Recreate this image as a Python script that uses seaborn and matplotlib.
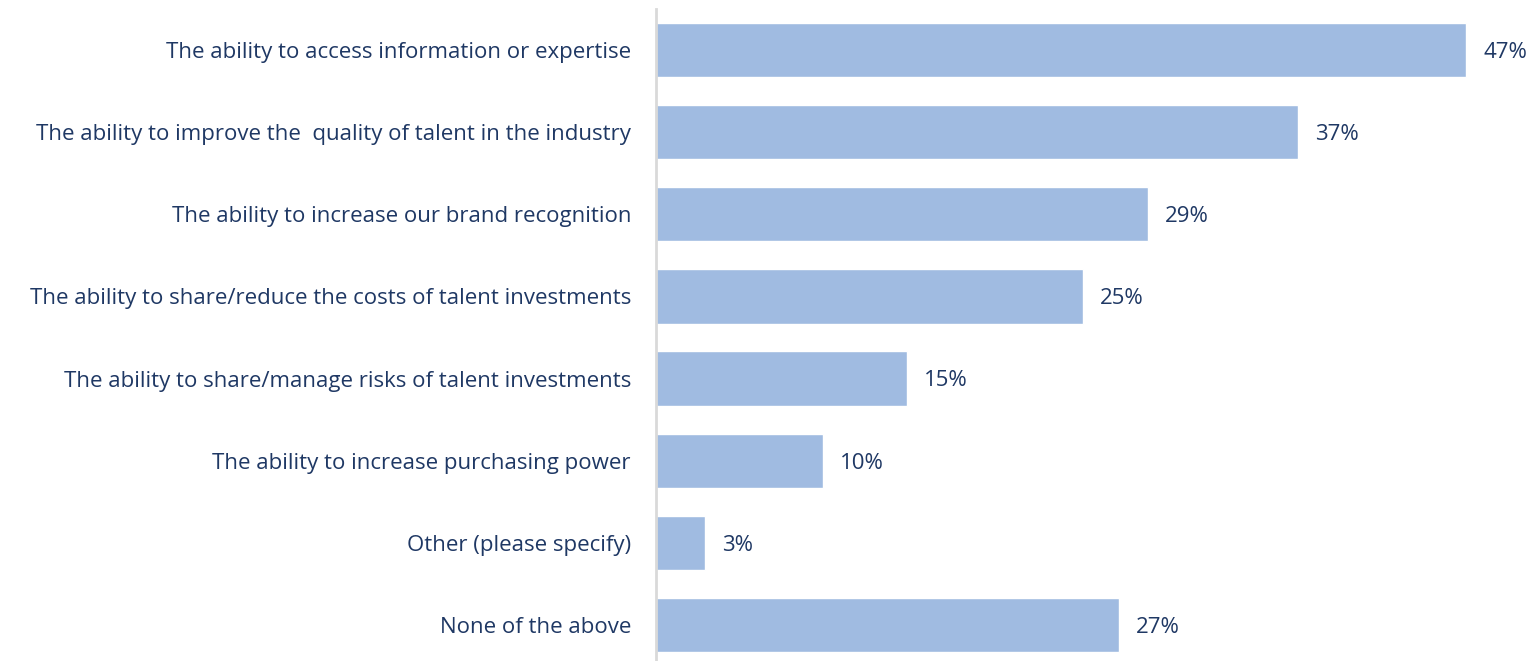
import numpy as np
import pandas as pd
import seaborn as sns
import matplotlib.pyplot as plt

categories = [
    "The ability to access information or expertise",
    "The ability to improve the  quality of talent in the industry",
    "The ability to increase our brand recognition",
    "The ability to share/reduce the costs of talent investments",
    "The ability to share/manage risks of talent investments",
    "The ability to increase purchasing power",
    "Other (please specify)",
    "None of the above",
]
# bar lengths (unrounded), and the printed labels
values = [47.1, 37.3, 28.6, 24.8, 14.6, 9.7, 2.85, 26.9]
value_labels = ["47%", "37%", "29%", "25%", "15%", "10%", "3%", "27%"]

bar_color = "#A0BBE1"
text_color = "#1F3864"

df = pd.DataFrame({"category": categories, "value": values})

sns.set_style("white")
plt.rcParams['font.family'] = ['Open Sans', 'DejaVu Sans']

fig = plt.figure(figsize=(15.34, 6.61), dpi=100)
ax = fig.add_axes([656 / 1534, 0, 1 - 656 / 1534, 1 - 9 / 661])

sns.barplot(data=df, x="value", y="category", color=bar_color, saturation=1,
            width=0.66, ax=ax)

for i, (v, lab) in enumerate(zip(values, value_labels)):
    ax.text(v + 1.0, i + 0.03, lab, va="center", ha="left", fontsize=16, color=text_color)

ax.set_xlim(0, (1534 - 656) / 17.2)
ax.set_ylim(7.44, -0.5)
ax.set_xlabel("")
ax.set_ylabel("")
ax.set_xticks([])
ax.tick_params(axis="y", length=0, pad=18, labelsize=16, labelcolor=text_color)

for side in ["top", "right", "bottom"]:
    ax.spines[side].set_visible(False)
ax.spines["left"].set_color("#D9D9D9")
ax.spines["left"].set_linewidth(2)

fig.savefig("out.png", dpi=100)
